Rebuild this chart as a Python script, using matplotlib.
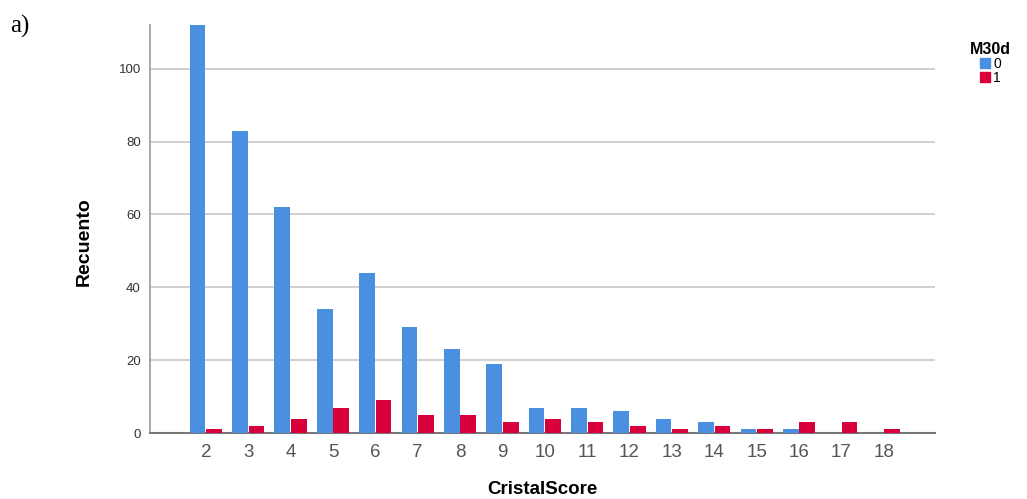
import numpy as np
import matplotlib.pyplot as plt
from matplotlib.patches import Patch

scores = [2, 3, 4, 5, 6, 7, 8, 9, 10, 11, 12, 13, 14, 15, 16, 17, 18]
m30d_0 = [112, 83, 62, 34, 44, 29, 23, 19, 7, 7, 6, 4, 3, 1, 1, 0, 0]
m30d_1 = [1, 2, 4, 7, 9, 5, 5, 3, 4, 3, 2, 1, 2, 1, 3, 3, 1]

blue = '#4a8fe0'
red = '#d8003a'

plt.rcParams['font.family'] = ['Liberation Sans', 'DejaVu Sans']

fig = plt.figure(figsize=(10.27, 4.99), dpi=100)
ax = fig.add_axes([0.146, 0.132, 0.764, 0.818])

x = np.array(scores)
w = 0.37
ax.bar(x - w / 2 - 0.01, m30d_0, width=w, color=blue, zorder=3)
ax.bar(x + w / 2 + 0.01, m30d_1, width=w, color=red, zorder=3)

ax.set_xlim(0.68, 19.2)
ax.set_ylim(0, 112)
ax.set_yticks([0, 20, 40, 60, 80, 100])
ax.set_xticks(scores)
ax.yaxis.grid(True, color='#c8c8c8', linewidth=1.2, zorder=0)

for s in ['top', 'right']:
    ax.spines[s].set_visible(False)
ax.spines['left'].set_color('#9a9a9a')
ax.spines['bottom'].set_color('#777777')
ax.spines['left'].set_linewidth(1.2)
ax.spines['bottom'].set_linewidth(1.5)

ax.tick_params(axis='y', length=0, pad=6.5, labelsize=9.5, labelcolor='#333333')
ax.tick_params(axis='x', length=0, pad=8, labelsize=13.5, labelcolor='#555555')

ax.set_ylabel('Recuento', fontsize=14, fontweight='bold')
ax.set_xlabel('CristalScore', fontsize=13.5, fontweight='bold')
ax.yaxis.set_label_coords(-0.0726, 0.47)
ax.xaxis.set_label_coords(0.5, -0.118)

handles = [Patch(color=blue, label='0'), Patch(color=red, label='1')]
leg = fig.legend(handles=handles, title='M30d', loc='upper left',
                 bbox_to_anchor=(0.935, 0.935), frameon=False,
                 fontsize=10, title_fontsize=11.5, handlelength=0.75,
                 handleheight=0.75, handletextpad=0.2, labelspacing=0.0,
                 borderpad=0.2)
leg.get_title().set_fontweight('bold')

fig.text(10 / 1027, 0.97, 'a)', fontsize=18, family='Liberation Serif', va='top')

fig.savefig('out.png', dpi=100)
